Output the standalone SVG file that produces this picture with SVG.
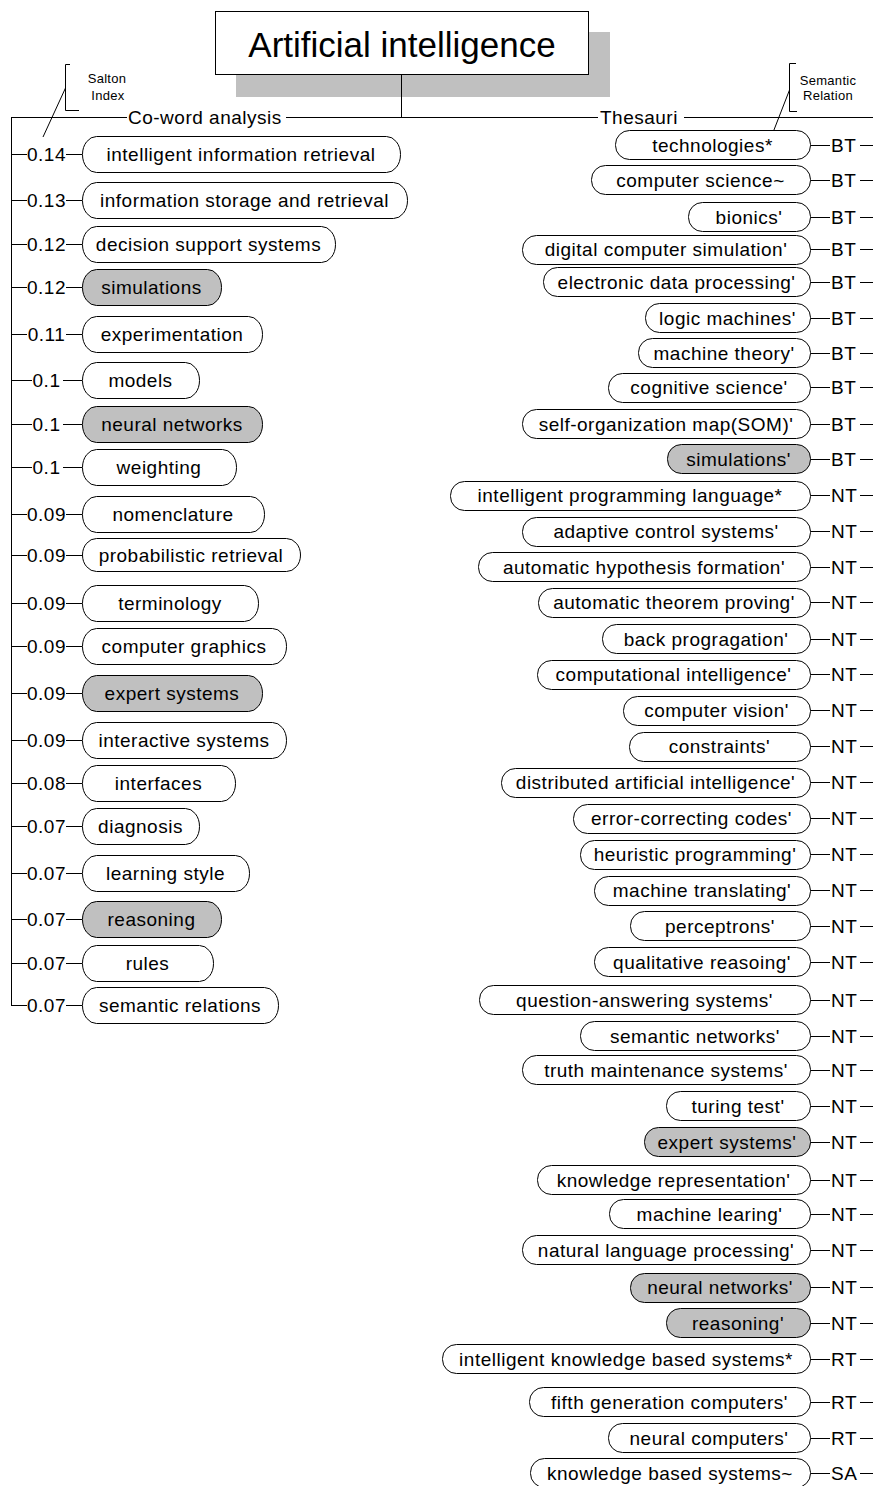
<svg xmlns="http://www.w3.org/2000/svg" width="873" height="1486" viewBox="0 0 873 1486">
<style>
.n{fill:#fff;stroke:#000;stroke-width:1}
.g{fill:#c0c0c0;stroke:#000;stroke-width:1}
.t{font-family:"Liberation Sans",Arial,sans-serif;font-size:19px;letter-spacing:0.5px;text-anchor:middle;fill:#000}
.lb{font-family:"Liberation Sans",Arial,sans-serif;font-size:19px;letter-spacing:0.5px;fill:#000}
.lc{text-anchor:middle}
.sm{font-family:"Liberation Sans",Arial,sans-serif;font-size:13px;letter-spacing:0.3px;text-anchor:middle;fill:#000}
.ln{fill:none;stroke:#000;stroke-width:1}
</style>
<rect width="873" height="1486" fill="#fff"/>
<g id="root">
<rect x="236" y="32" width="374" height="65" fill="#c0c0c0"/>
<rect x="215.5" y="11.5" width="373" height="63" fill="#fff" stroke="#000"/>
<text x="402" y="57" font-family="Liberation Sans, Arial, sans-serif" font-size="35" text-anchor="middle">Artificial intelligence</text>
</g>
<g id="branch-coword"><text class="lb" x="128" y="124">Co-word analysis</text></g>
<g id="branch-thesauri"><text class="lb" x="600" y="124">Thesauri</text></g>
<g id="salton-index">
<path class="ln" d="M70,64.5H65.5V110.5H79M65.5,88L43,137"/>
<text class="sm" x="107" y="83">Salton</text>
<text class="sm" x="108" y="100">Index</text>
</g>
<g id="semantic-relation">
<path class="ln" d="M796,63.5H789.5V111.5H797M789.5,90L772,135"/>
<text class="sm" x="828" y="85">Semantic</text>
<text class="sm" x="828" y="100">Relation</text>
</g>
<g id="connectors" class="ln" shape-rendering="crispEdges">
<path d="M401.5,75V117.5M11,117.5H127M286,117.5H401.5M401.5,117.5H598M684,117.5H873M11.5,117.5V1005.5"/>
<path d="M11,154.5H27M66,154.5H82M11,200.5H27M66,200.5H82M11,244.5H27M66,244.5H82M11,287.5H27M66,287.5H82M11,334.5H27M66,334.5H82M11,380.5H32M63,380.5H82M11,424.5H32M63,424.5H82M11,467.5H32M63,467.5H82M11,514.5H27M66,514.5H82M11,555.5H27M66,555.5H82M11,603.5H27M66,603.5H82M11,646.5H27M66,646.5H82M11,693.5H27M66,693.5H82M11,740.5H27M66,740.5H82M11,783.5H27M66,783.5H82M11,826.5H27M66,826.5H82M11,873.5H27M66,873.5H82M11,919.5H27M66,919.5H82M11,963.5H27M66,963.5H82M11,1005.5H27M66,1005.5H82"/>
<path d="M810,145.5H830M860,145.5H873M810,180.5H830M860,180.5H873M810,217.5H830M860,217.5H873M810,249.5H830M860,249.5H873M810,282.5H830M860,282.5H873M810,318.5H830M860,318.5H873M810,353.5H830M860,353.5H873M810,387.5H830M860,387.5H873M810,424.5H830M860,424.5H873M810,459.5H830M860,459.5H873M810,495.5H830M860,495.5H873M810,531.5H830M860,531.5H873M810,567.5H830M860,567.5H873M810,602.5H830M860,602.5H873M810,639.5H830M860,639.5H873M810,674.5H830M860,674.5H873M810,710.5H830M860,710.5H873M810,746.5H830M860,746.5H873M810,782.5H830M860,782.5H873M810,818.5H830M860,818.5H873M810,854.5H830M860,854.5H873M810,890.5H830M860,890.5H873M810,926.5H830M860,926.5H873M810,962.5H830M860,962.5H873M810,1000.5H830M860,1000.5H873M810,1036.5H830M860,1036.5H873M810,1070.5H830M860,1070.5H873M810,1106.5H830M860,1106.5H873M810,1142.5H830M860,1142.5H873M810,1180.5H830M860,1180.5H873M810,1214.5H830M860,1214.5H873M810,1250.5H830M860,1250.5H873M810,1287.5H830M860,1287.5H873M810,1323.5H830M860,1323.5H873M810,1359.5H830M860,1359.5H873M810,1402.5H830M860,1402.5H873M810,1438.5H830M860,1438.5H873M810,1473.5H830M860,1473.5H873"/>
</g>
<g id="labels-salton">
<text class="lb lc" x="46.5" y="161">0.14</text>
<text class="lb lc" x="46.5" y="207">0.13</text>
<text class="lb lc" x="46.5" y="251">0.12</text>
<text class="lb lc" x="46.5" y="293.5">0.12</text>
<text class="lb lc" x="46.5" y="340.5">0.11</text>
<text class="lb lc" x="46.5" y="386.5">0.1</text>
<text class="lb lc" x="46.5" y="430.5">0.1</text>
<text class="lb lc" x="46.5" y="473.5">0.1</text>
<text class="lb lc" x="46.5" y="520.5">0.09</text>
<text class="lb lc" x="46.5" y="561.5">0.09</text>
<text class="lb lc" x="46.5" y="610">0.09</text>
<text class="lb lc" x="46.5" y="653">0.09</text>
<text class="lb lc" x="46.5" y="699.5">0.09</text>
<text class="lb lc" x="46.5" y="746.5">0.09</text>
<text class="lb lc" x="46.5" y="789.5">0.08</text>
<text class="lb lc" x="46.5" y="832.5">0.07</text>
<text class="lb lc" x="46.5" y="879.5">0.07</text>
<text class="lb lc" x="46.5" y="926">0.07</text>
<text class="lb lc" x="46.5" y="969.5">0.07</text>
<text class="lb lc" x="46.5" y="1012">0.07</text>
</g>
<g id="labels-relation">
<text class="lb" x="831" y="151.5">BT</text>
<text class="lb" x="831" y="186.5">BT</text>
<text class="lb" x="831" y="223.5">BT</text>
<text class="lb" x="831" y="256">BT</text>
<text class="lb" x="831" y="288.5">BT</text>
<text class="lb" x="831" y="324.5">BT</text>
<text class="lb" x="831" y="359.5">BT</text>
<text class="lb" x="831" y="394">BT</text>
<text class="lb" x="831" y="430.5">BT</text>
<text class="lb" x="831" y="465.5">BT</text>
<text class="lb" x="831" y="502">NT</text>
<text class="lb" x="831" y="538">NT</text>
<text class="lb" x="831" y="573.5">NT</text>
<text class="lb" x="831" y="609">NT</text>
<text class="lb" x="831" y="645.5">NT</text>
<text class="lb" x="831" y="681">NT</text>
<text class="lb" x="831" y="717">NT</text>
<text class="lb" x="831" y="753">NT</text>
<text class="lb" x="831" y="789">NT</text>
<text class="lb" x="831" y="825">NT</text>
<text class="lb" x="831" y="861">NT</text>
<text class="lb" x="831" y="897">NT</text>
<text class="lb" x="831" y="932.5">NT</text>
<text class="lb" x="831" y="968.5">NT</text>
<text class="lb" x="831" y="1006.5">NT</text>
<text class="lb" x="831" y="1042.5">NT</text>
<text class="lb" x="831" y="1076.5">NT</text>
<text class="lb" x="831" y="1112.5">NT</text>
<text class="lb" x="831" y="1148.5">NT</text>
<text class="lb" x="831" y="1186.5">NT</text>
<text class="lb" x="831" y="1220.5">NT</text>
<text class="lb" x="831" y="1256.5">NT</text>
<text class="lb" x="831" y="1294">NT</text>
<text class="lb" x="831" y="1329.5">NT</text>
<text class="lb" x="831" y="1365.5">RT</text>
<text class="lb" x="831" y="1408.5">RT</text>
<text class="lb" x="831" y="1444.5">RT</text>
<text class="lb" x="831" y="1479.5">SA</text>
</g>
<g id="L1"><rect class="n" x="82.5" y="136.5" width="318" height="36" rx="14" ry="18"/><text class="t" x="241" y="161">intelligent information retrieval</text></g>
<g id="L2"><rect class="n" x="82.5" y="182.5" width="325" height="36" rx="14" ry="18"/><text class="t" x="244.5" y="207">information storage and retrieval</text></g>
<g id="L3"><rect class="n" x="82.5" y="226.5" width="253" height="36" rx="14" ry="18"/><text class="t" x="208.5" y="251">decision support systems</text></g>
<g id="L4"><rect class="g" x="82.5" y="269.5" width="139" height="36" rx="14" ry="18"/><text class="t" x="151.5" y="293.5">simulations</text></g>
<g id="L5"><rect class="n" x="82.5" y="316.5" width="180" height="36" rx="14" ry="18"/><text class="t" x="172" y="340.5">experimentation</text></g>
<g id="L6"><rect class="n" x="82.5" y="362.5" width="117" height="36" rx="14" ry="18"/><text class="t" x="140.5" y="386.5">models</text></g>
<g id="L7"><rect class="g" x="82.5" y="406.5" width="180" height="36" rx="14" ry="18"/><text class="t" x="172" y="430.5">neural networks</text></g>
<g id="L8"><rect class="n" x="82.5" y="449.5" width="154" height="36" rx="14" ry="18"/><text class="t" x="159" y="473.5">weighting</text></g>
<g id="L9"><rect class="n" x="82.5" y="496.5" width="182" height="36" rx="14" ry="18"/><text class="t" x="173" y="520.5">nomenclature</text></g>
<g id="L10"><rect class="n" x="82.5" y="538.5" width="218" height="33" rx="14" ry="16.5"/><text class="t" x="191" y="561.5">probabilistic retrieval</text></g>
<g id="L11"><rect class="n" x="82.5" y="585.5" width="176" height="36" rx="14" ry="18"/><text class="t" x="170" y="610">terminology</text></g>
<g id="L12"><rect class="n" x="82.5" y="628.5" width="204" height="36" rx="14" ry="18"/><text class="t" x="184" y="653">computer graphics</text></g>
<g id="L13"><rect class="g" x="82.5" y="675.5" width="180" height="36" rx="14" ry="18"/><text class="t" x="172" y="699.5">expert systems</text></g>
<g id="L14"><rect class="n" x="82.5" y="722.5" width="204" height="36" rx="14" ry="18"/><text class="t" x="184" y="746.5">interactive systems</text></g>
<g id="L15"><rect class="n" x="82.5" y="765.5" width="153" height="36" rx="14" ry="18"/><text class="t" x="158.5" y="789.5">interfaces</text></g>
<g id="L16"><rect class="n" x="82.5" y="808.5" width="117" height="36" rx="14" ry="18"/><text class="t" x="140.5" y="832.5">diagnosis</text></g>
<g id="L17"><rect class="n" x="82.5" y="855.5" width="167" height="36" rx="14" ry="18"/><text class="t" x="165.5" y="879.5">learning style</text></g>
<g id="L18"><rect class="g" x="82.5" y="901.5" width="139" height="36" rx="14" ry="18"/><text class="t" x="151.5" y="926">reasoning</text></g>
<g id="L19"><rect class="n" x="82.5" y="945.5" width="131" height="36" rx="14" ry="18"/><text class="t" x="147.5" y="969.5">rules</text></g>
<g id="L20"><rect class="n" x="82.5" y="987.5" width="196" height="36" rx="14" ry="18"/><text class="t" x="180" y="1012">semantic relations</text></g>
<g id="R1"><rect class="n" x="615.5" y="130.5" width="195" height="29" rx="14"/><text class="t" x="712.5" y="151.5">technologies*</text></g>
<g id="R2"><rect class="n" x="591.5" y="165.5" width="219" height="29" rx="14"/><text class="t" x="700.5" y="186.5">computer science~</text></g>
<g id="R3"><rect class="n" x="688.5" y="202.5" width="122" height="29" rx="14"/><text class="t" x="749" y="223.5">bionics'</text></g>
<g id="R4"><rect class="n" x="522.5" y="235.5" width="288" height="29" rx="14"/><text class="t" x="666" y="256">digital computer simulation'</text></g>
<g id="R5"><rect class="n" x="543.5" y="267.5" width="267" height="29" rx="14"/><text class="t" x="676.5" y="288.5">electronic data processing'</text></g>
<g id="R6"><rect class="n" x="645.5" y="303.5" width="165" height="29" rx="14"/><text class="t" x="727.5" y="324.5">logic machines'</text></g>
<g id="R7"><rect class="n" x="638.5" y="338.5" width="172" height="29" rx="14"/><text class="t" x="724" y="359.5">machine theory'</text></g>
<g id="R8"><rect class="n" x="608.5" y="373.5" width="202" height="29" rx="14"/><text class="t" x="709" y="394">cognitive science'</text></g>
<g id="R9"><rect class="n" x="522.5" y="409.5" width="288" height="29" rx="14"/><text class="t" x="666" y="430.5">self-organization map(SOM)'</text></g>
<g id="R10"><rect class="g" x="667.5" y="444.5" width="143" height="29" rx="14"/><text class="t" x="738.5" y="465.5">simulations'</text></g>
<g id="R11"><rect class="n" x="450.5" y="481.5" width="360" height="29" rx="14"/><text class="t" x="630" y="502">intelligent programming language*</text></g>
<g id="R12"><rect class="n" x="522.5" y="517.5" width="288" height="29" rx="14"/><text class="t" x="666" y="538">adaptive control systems'</text></g>
<g id="R13"><rect class="n" x="478.5" y="552.5" width="332" height="29" rx="14"/><text class="t" x="644" y="573.5">automatic hypothesis formation'</text></g>
<g id="R14"><rect class="n" x="538.5" y="588.5" width="272" height="29" rx="14"/><text class="t" x="674" y="609">automatic theorem proving'</text></g>
<g id="R15"><rect class="n" x="602.5" y="624.5" width="208" height="29" rx="14"/><text class="t" x="706" y="645.5">back progragation'</text></g>
<g id="R16"><rect class="n" x="537.5" y="660.5" width="273" height="29" rx="14"/><text class="t" x="673.5" y="681">computational intelligence'</text></g>
<g id="R17"><rect class="n" x="623.5" y="696.5" width="187" height="29" rx="14"/><text class="t" x="716.5" y="717">computer vision'</text></g>
<g id="R18"><rect class="n" x="629.5" y="732.5" width="181" height="29" rx="14"/><text class="t" x="719.5" y="753">constraints'</text></g>
<g id="R19"><rect class="n" x="501.5" y="768.5" width="309" height="29" rx="14"/><text class="t" x="655.5" y="789">distributed artificial intelligence'</text></g>
<g id="R20"><rect class="n" x="573.5" y="804.5" width="237" height="29" rx="14"/><text class="t" x="691.5" y="825">error-correcting codes'</text></g>
<g id="R21"><rect class="n" x="580.5" y="840.5" width="230" height="29" rx="14"/><text class="t" x="695" y="861">heuristic programming'</text></g>
<g id="R22"><rect class="n" x="594.5" y="876.5" width="216" height="29" rx="14"/><text class="t" x="702" y="897">machine translating'</text></g>
<g id="R23"><rect class="n" x="630.5" y="911.5" width="180" height="29" rx="14"/><text class="t" x="720" y="932.5">perceptrons'</text></g>
<g id="R24"><rect class="n" x="594.5" y="947.5" width="216" height="29" rx="14"/><text class="t" x="702" y="968.5">qualitative reasoing'</text></g>
<g id="R25"><rect class="n" x="479.5" y="985.5" width="331" height="29" rx="14"/><text class="t" x="644.5" y="1006.5">question-answering systems'</text></g>
<g id="R26"><rect class="n" x="580.5" y="1021.5" width="230" height="29" rx="14"/><text class="t" x="695" y="1042.5">semantic networks'</text></g>
<g id="R27"><rect class="n" x="522.5" y="1055.5" width="288" height="29" rx="14"/><text class="t" x="666" y="1076.5">truth maintenance systems'</text></g>
<g id="R28"><rect class="n" x="666.5" y="1091.5" width="144" height="29" rx="14"/><text class="t" x="738" y="1112.5">turing test'</text></g>
<g id="R29"><rect class="g" x="644.5" y="1127.5" width="166" height="29" rx="14"/><text class="t" x="727" y="1148.5">expert systems'</text></g>
<g id="R30"><rect class="n" x="537.5" y="1165.5" width="273" height="29" rx="14"/><text class="t" x="673.5" y="1186.5">knowledge representation'</text></g>
<g id="R31"><rect class="n" x="609.5" y="1199.5" width="201" height="29" rx="14"/><text class="t" x="709.5" y="1220.5">machine learing'</text></g>
<g id="R32"><rect class="n" x="522.5" y="1235.5" width="288" height="29" rx="14"/><text class="t" x="666" y="1256.5">natural language processing'</text></g>
<g id="R33"><rect class="g" x="630.5" y="1273.5" width="180" height="29" rx="14"/><text class="t" x="720" y="1294">neural networks'</text></g>
<g id="R34"><rect class="g" x="666.5" y="1308.5" width="144" height="29" rx="14"/><text class="t" x="738" y="1329.5">reasoning'</text></g>
<g id="R35"><rect class="n" x="442.5" y="1344.5" width="368" height="29" rx="14"/><text class="t" x="626" y="1365.5">intelligent knowledge based systems*</text></g>
<g id="R36"><rect class="n" x="529.5" y="1387.5" width="281" height="29" rx="14"/><text class="t" x="669.5" y="1408.5">fifth generation computers'</text></g>
<g id="R37"><rect class="n" x="608.5" y="1423.5" width="202" height="29" rx="14"/><text class="t" x="709" y="1444.5">neural computers'</text></g>
<g id="R38"><rect class="n" x="530.5" y="1458.5" width="280" height="29" rx="14"/><text class="t" x="670" y="1479.5">knowledge based systems~</text></g>
</svg>
